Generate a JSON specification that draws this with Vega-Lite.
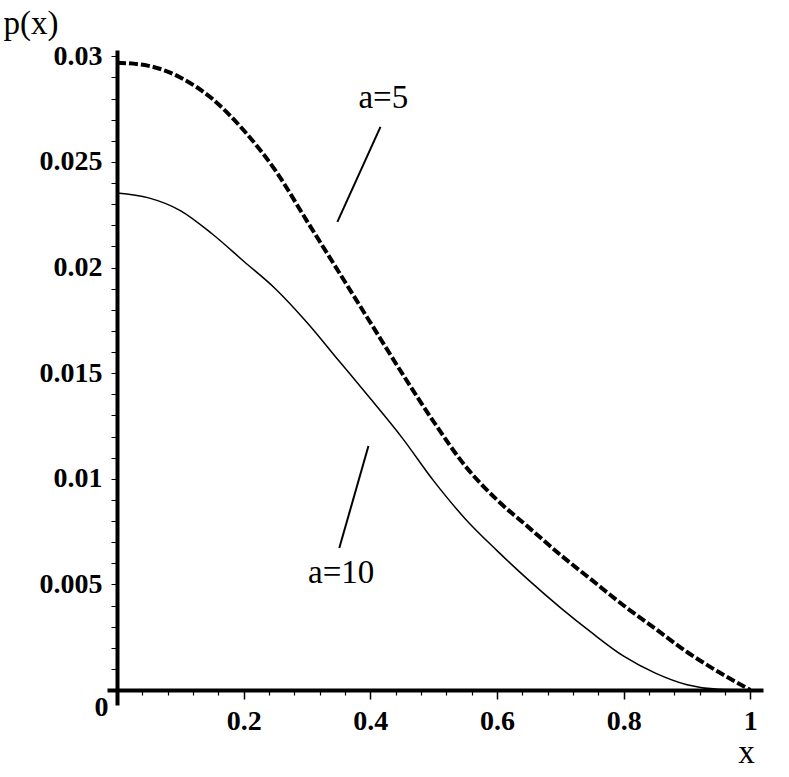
{
  "$schema": "https://vega.github.io/schema/vega-lite/v6.json",
  "width": 646,
  "height": 640,
  "autosize": {"type": "none"},
  "padding": {"left": 117, "top": 50, "right": 26, "bottom": 87},
  "background": "white",
  "config": {
    "view": {"stroke": null},
    "axis": {
      "grid": false,
      "domainColor": "black",
      "domainWidth": 4,
      "tickColor": "black",
      "labelFont": "Liberation Serif",
      "labelFontWeight": "bold",
      "labelFontSize": 28,
      "labelColor": "black",
      "titleFont": "Liberation Serif",
      "titleFontWeight": "normal",
      "titleFontSize": 33,
      "titleColor": "black"
    }
  },
  "datasets": {
    "curves": [
      {"x": 0, "y": 0.0297, "a": "a=5"},
      {"x": 0.05, "y": 0.02955, "a": "a=5"},
      {"x": 0.1, "y": 0.029, "a": "a=5"},
      {"x": 0.15, "y": 0.028, "a": "a=5"},
      {"x": 0.2, "y": 0.0265, "a": "a=5"},
      {"x": 0.25, "y": 0.0246, "a": "a=5"},
      {"x": 0.3, "y": 0.0222, "a": "a=5"},
      {"x": 0.35, "y": 0.0198, "a": "a=5"},
      {"x": 0.4, "y": 0.0174, "a": "a=5"},
      {"x": 0.45, "y": 0.015, "a": "a=5"},
      {"x": 0.5, "y": 0.0127, "a": "a=5"},
      {"x": 0.55, "y": 0.0106, "a": "a=5"},
      {"x": 0.6, "y": 0.009, "a": "a=5"},
      {"x": 0.65, "y": 0.0077, "a": "a=5"},
      {"x": 0.7, "y": 0.0064, "a": "a=5"},
      {"x": 0.75, "y": 0.0052, "a": "a=5"},
      {"x": 0.8, "y": 0.004, "a": "a=5"},
      {"x": 0.85, "y": 0.0029, "a": "a=5"},
      {"x": 0.9, "y": 0.0018, "a": "a=5"},
      {"x": 0.95, "y": 0.00085, "a": "a=5"},
      {"x": 1.0, "y": 0, "a": "a=5"},
      {"x": 0, "y": 0.02353, "a": "a=10"},
      {"x": 0.05, "y": 0.0233, "a": "a=10"},
      {"x": 0.1, "y": 0.0227, "a": "a=10"},
      {"x": 0.15, "y": 0.0216, "a": "a=10"},
      {"x": 0.2, "y": 0.0203, "a": "a=10"},
      {"x": 0.25, "y": 0.019, "a": "a=10"},
      {"x": 0.3, "y": 0.0174, "a": "a=10"},
      {"x": 0.35, "y": 0.0156, "a": "a=10"},
      {"x": 0.4, "y": 0.0138, "a": "a=10"},
      {"x": 0.45, "y": 0.01195, "a": "a=10"},
      {"x": 0.5, "y": 0.0099, "a": "a=10"},
      {"x": 0.55, "y": 0.0081, "a": "a=10"},
      {"x": 0.6, "y": 0.0066, "a": "a=10"},
      {"x": 0.65, "y": 0.0052, "a": "a=10"},
      {"x": 0.7, "y": 0.0039, "a": "a=10"},
      {"x": 0.75, "y": 0.0027, "a": "a=10"},
      {"x": 0.8, "y": 0.0016, "a": "a=10"},
      {"x": 0.85, "y": 0.0008, "a": "a=10"},
      {"x": 0.9, "y": 0.00025, "a": "a=10"},
      {"x": 0.95, "y": 0.00003, "a": "a=10"},
      {"x": 1.0, "y": 0, "a": "a=10"}
    ],
    "pointers": [
      {"x1": 0.416, "y1": 0.02666, "x2": 0.348, "y2": 0.02216},
      {"x1": 0.397, "y1": 0.01155, "x2": 0.351, "y2": 0.00672}
    ],
    "labels": [
      {"x": 0.4205, "y": 0.02803, "text": "a=5"},
      {"x": 0.354, "y": 0.00554, "text": "a=10"}
    ]
  },
  "resolve": {"axis": {"x": "independent", "y": "independent"}},
  "layer": [
    {
      "data": {"name": "curves"},
      "transform": [{"filter": "datum.a == 'a=10'"}],
      "mark": {"type": "line", "interpolate": "monotone", "color": "black", "strokeWidth": 1.5},
      "encoding": {
        "x": {
          "field": "x", "type": "quantitative",
          "scale": {"domain": [0, 1.02], "nice": false, "zero": false},
          "axis": {
            "orient": "bottom",
            "values": [0.2, 0.4, 0.6, 0.8, 1.0],
            "format": "~g",
            "tickSize": 9,
            "tickWidth": 1.5,
            "labelPadding": 8,
            "labelFlush": false,
            "labelOverlap": false,
            "title": "x",
            "titleAngle": 0,
            "titleAlign": "center",
            "titleBaseline": "alphabetic",
            "titleAnchor": null,
            "titleX": 629,
            "titleY": 72
          }
        },
        "y": {
          "field": "y", "type": "quantitative",
          "scale": {"domain": [0, 0.0303], "nice": false, "zero": false},
          "axis": {
            "orient": "left",
            "values": [0, 0.005, 0.01, 0.015, 0.02, 0.025, 0.03],
            "format": "~g",
            "tickSize": 6,
            "tickWidth": 1,
            "labelPadding": {"condition": {"test": "datum.value == 0", "value": 3}, "value": 9},
            "labelOffset": {"condition": {"test": "datum.value == 0", "value": 17}, "value": 0},
            "labelBaseline": "middle",
            "labelFlush": false,
            "labelOverlap": false,
            "title": "p(x)",
            "titleAngle": 0,
            "titleAlign": "left",
            "titleBaseline": "alphabetic",
            "titleAnchor": null,
            "titleX": -114,
            "titleY": -17
          }
        }
      }
    },
    {
      "data": {"name": "curves"},
      "transform": [{"filter": "datum.a == 'a=5'"}],
      "mark": {"type": "line", "interpolate": "monotone", "color": "black", "strokeWidth": 4, "strokeDash": [9, 3]},
      "encoding": {
        "x": {
          "field": "x", "type": "quantitative",
          "axis": {
            "orient": "bottom",
            "values": [0, 0.04, 0.08, 0.12, 0.16, 0.24, 0.28, 0.32, 0.36, 0.44, 0.48, 0.52, 0.56, 0.64, 0.68, 0.72, 0.76, 0.84, 0.88, 0.92, 0.96],
            "labels": false,
            "domain": false,
            "tickSize": {"condition": {"test": "datum.value == 0", "value": 15}, "value": 5},
            "tickWidth": {"condition": {"test": "datum.value == 0", "value": 4}, "value": 1.2},
            "title": null
          }
        },
        "y": {
          "field": "y", "type": "quantitative",
          "axis": {
            "orient": "left",
            "values": [0, 0.001, 0.002, 0.003, 0.004, 0.006, 0.007, 0.008, 0.009, 0.011, 0.012, 0.013, 0.014, 0.016, 0.017, 0.018, 0.019, 0.021, 0.022, 0.023, 0.024, 0.026, 0.027, 0.028, 0.029],
            "labels": false,
            "domain": false,
            "tickSize": {"condition": {"test": "datum.value == 0", "value": 10}, "value": 6},
            "tickWidth": {"condition": {"test": "datum.value == 0", "value": 4}, "value": 1},
            "title": null
          }
        }
      }
    },
    {
      "data": {"name": "pointers"},
      "mark": {"type": "rule", "color": "black", "strokeWidth": 2},
      "encoding": {
        "x": {"field": "x1", "type": "quantitative", "axis": null},
        "y": {"field": "y1", "type": "quantitative", "axis": null},
        "x2": {"field": "x2"},
        "y2": {"field": "y2"}
      }
    },
    {
      "data": {"name": "labels"},
      "mark": {"type": "text", "font": "Liberation Serif", "fontSize": 33, "color": "black", "align": "center", "baseline": "middle"},
      "encoding": {
        "x": {"field": "x", "type": "quantitative", "axis": null},
        "y": {"field": "y", "type": "quantitative", "axis": null},
        "text": {"field": "text"}
      }
    }
  ]
}
